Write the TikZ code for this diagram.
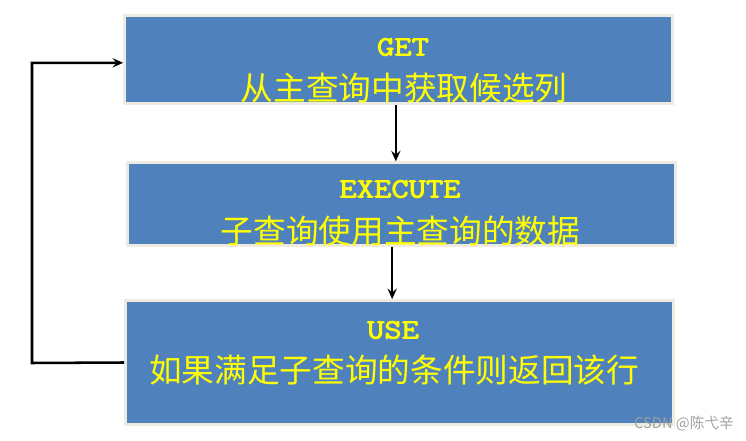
\documentclass[tikz,border=0pt]{standalone}
\usepackage{fontspec}
\setmainfont{Noto Sans CJK SC}
\newfontfamily\codefont[FakeBold=3,FakeStretch=1.2]{Latin Modern Mono}
\usetikzlibrary{arrows.meta,positioning}

\definecolor{boxblue}{HTML}{4F81BD}
\definecolor{boxrim}{HTML}{EEECE1}
\definecolor{labelyellow}{HTML}{FFFF00}

\tikzset{
  stepbox/.style={rectangle, draw=boxrim, line width=2pt, fill=boxblue,
    minimum width=411pt, inner sep=0pt},
  keyword/.style={text=labelyellow, inner sep=0pt, font=\codefont\fontsize{21}{24}\selectfont},
  phrase/.style={text=labelyellow, inner sep=0pt, font=\fontsize{24.5}{26}\selectfont},
  flow/.style={-{Stealth[length=8pt,width=7pt,inset=3pt]}, line width=1.9pt},
}

\begin{document}
\begin{tikzpicture}[x=0.75pt,y=-0.75pt]

\useasboundingbox (0,0) rectangle (746,441);

% === Three steps ===
\node[stepbox, minimum height=66pt] (get) at (398.5,59.5) {};
\node[stepbox, minimum height=62pt] (exec) at (401.5,204) {};
\node[stepbox, minimum height=93pt] (use) at (399.5,362.5) {};

% Labels inside the boxes
\node[keyword] (getkey) at (403,47) {GET};
\node[phrase] (gettext) at (404,88) {从主查询中获取候选列};
\node[keyword] (execkey) at (400,189) {EXECUTE};
\node[phrase] (exectext) at (400.5,231) {子查询使用主查询的数据};
\node[keyword] (usekey) at (393,330) {USE};
\node[phrase] (usetext) at (394,370) {如果满足子查询的条件则返回该行};

% === Connectors ===
\draw[flow] ([xshift=-2pt]get.south) -- ([xshift=-2pt]get.south |- exec.north);
\draw[flow] ([xshift=-7pt]exec.south) -- ([xshift=-7pt]exec.south |- use.north);

% back loop on the left
\coordinate (loop) at (32,363);
\draw[flow] (use.west) -- (loop) |- ([yshift=-2.5pt]get.west);

% watermark
\node[text=gray!75, inner sep=0pt, font=\fontsize{11}{12}\selectfont] (mark) at (684,424) {CSDN @陈弋辛};

\end{tikzpicture}
\end{document}
